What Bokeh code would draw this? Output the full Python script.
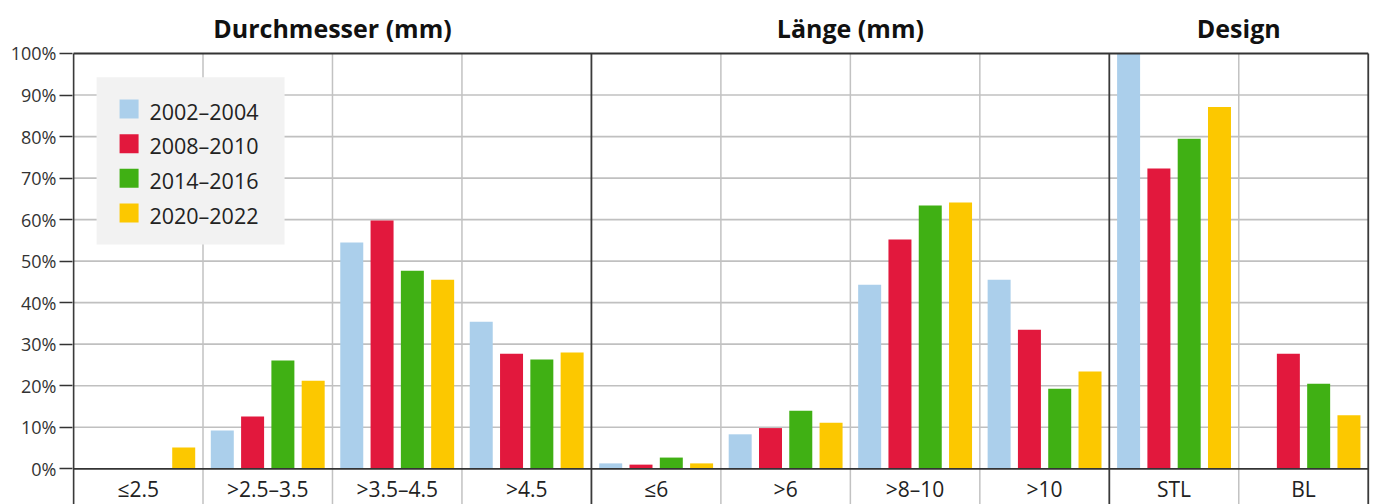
from bokeh.plotting import figure
from bokeh.models import Range1d, FixedTicker
from bokeh.core.properties import value
from bokeh.embed import file_html
from bokeh.resources import INLINE

# ---- data ----
categories = ["≤2.5", ">2.5–3.5", ">3.5–4.5", ">4.5", "≤6", ">6", ">8–10", ">10", "STL", "BL"]
groups = ["Durchmesser (mm)", "Länge (mm)", "Design"]
group_sizes = [4, 4, 2]
series_names = ["2002–2004", "2008–2010", "2014–2016", "2020–2022"]
s2002 = [0, 9.2, 54.5, 35.4, 1.3, 8.3, 44.3, 45.5, 100.0, 0]
s2008 = [0, 12.6, 59.8, 27.7, 1.0, 9.8, 55.2, 33.5, 72.3, 27.7]
s2014 = [0, 26.1, 47.7, 26.3, 2.7, 14.0, 63.4, 19.3, 79.5, 20.5]
s2020 = [5.1, 21.2, 45.5, 28.0, 1.3, 11.1, 64.1, 23.4, 87.1, 12.9]
y_ticks = [0, 10, 20, 30, 40, 50, 60, 70, 80, 90, 100]

series = [s2002, s2008, s2014, s2020]
colors = ["#abcfeb", "#e2183d", "#40b014", "#fcc800"]

FONT = value("Open Sans")
n = len(categories)
Y0, Y1 = -8.6, 112.76

p = figure(width=1375, height=504, x_range=Range1d(-0.008, n + 0.056), y_range=Range1d(Y0, Y1),
           output_backend="svg", toolbar_location=None, x_axis_type=None,
           min_border_left=72, min_border_right=0, min_border_top=0, min_border_bottom=0)
p.outline_line_color = None
p.ygrid.visible = False
p.background_fill_color = "white"

ax = p.yaxis[0]
ax.ticker = FixedTicker(ticks=y_ticks)
ax.major_label_overrides = {t: f"{t}%" for t in y_ticks}
ax.major_label_text_font = "Open Sans"
ax.major_label_text_font_size = "18px"
ax.major_label_text_color = "#333333"
ax.major_tick_out = 13
ax.major_tick_in = 0
ax.minor_tick_out = 0
ax.minor_tick_in = 0
ax.major_label_standoff = 3
ax.axis_line_color = None
ax.major_tick_line_color = "#333333"
ax.major_tick_line_width = 1.5

# horizontal grid
grid_y = [t for t in y_ticks if 0 < t < 100]
p.segment(x0=[0] * len(grid_y), x1=[n] * len(grid_y), y0=grid_y, y1=grid_y,
          line_color="#c0c0c0", line_width=1.7)

# vertical separators
bounds = []
acc = 0
for g in group_sizes[:-1]:
    acc += g
    bounds.append(acc)
thin = [b for b in range(1, n) if b not in bounds]
p.segment(x0=thin, x1=thin, y0=[Y0] * len(thin), y1=[100] * len(thin),
          line_color="#c2c2c2", line_width=1.5)

# bars
bw = 0.1776
step = 0.234
for k, (vals, col) in enumerate(zip(series, colors)):
    off = (k - 1.5) * step
    xs = [i + 0.5 + off for i in range(n)]
    p.vbar(x=xs, top=vals, bottom=0, width=bw, fill_color=col, line_color=None)

# dark frame lines
vx = [0] + bounds + [n]
p.segment(x0=vx, x1=vx, y0=[Y0] * len(vx), y1=[100] * len(vx),
          line_color="#3a3a3a", line_width=1.8)
p.segment(x0=[0, 0], x1=[n, n], y0=[100, 0], y1=[100, 0], line_color="#333333", line_width=1.8)

# category labels
p.text(x=[i + 0.5 for i in range(n)], y=[-4.8] * n, text=categories,
       text_align="center", text_baseline="alphabetic", text_font=FONT,
       text_font_size="21px", text_color="#222222")

# group titles
gx = []
acc = 0
for gs in group_sizes:
    gx.append(acc + gs / 2)
    acc += gs
p.text(x=gx, y=[106.2] * len(groups), text=groups, text_align="center",
       text_baseline="alphabetic", text_font=FONT, text_font_style="bold",
       text_font_size="25px", text_color="#111111")

# legend
p.quad(left=[0.178], right=[1.630], bottom=[54.0], top=[94.3], fill_color="#f2f2f2", line_color=None)
leg_y = [86.64 - 8.35 * k for k in range(len(series_names))]
p.rect(x=[0.429] * 4, y=leg_y, width=19, height=19, width_units="screen", height_units="screen",
       fill_color=colors, line_color=None)
p.text(x=[0.586] * 4, y=[v - 0.5 for v in leg_y], text=series_names, text_align="left",
       text_baseline="alphabetic", text_font=FONT, text_font_size="21.5px", text_color="#222222")

open("out.html", "w").write(file_html(p, INLINE))
